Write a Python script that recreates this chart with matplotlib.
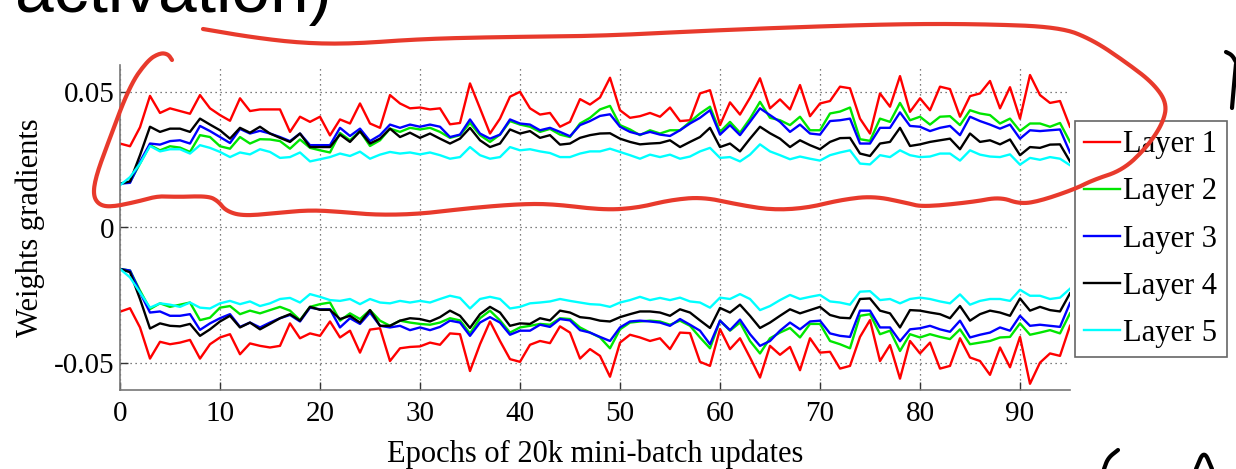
import numpy as np
import matplotlib
matplotlib.use("Agg")
import matplotlib.pyplot as plt
from matplotlib.lines import Line2D

epochs = np.arange(96)

# positive half (mean positive gradient per layer)
pos1 = [.031, .030, .037, .0486, .0423, .044, .043, .042, .0489, .044,
        .0415, .0394, .0477, .043, .0436, .0436, .0436, .0353, .0409, .039,
        .0409, .034, .0399, .0384, .0458, .0384, .0368, .0489, .0458, .044,
        .0443, .0436, .044, .0381, .0386, .0532, .044, .0347, .0402, .0483,
        .0501, .044, .0417, .0423, .0372, .039, .0474, .0454, .048, .0553,
        .0433, .0405, .0411, .0423, .0409, .0443, .0393, .0396, .0495, .0507,
        .0378, .0462, .0417, .0479, .0551, .044, .0473, .0436, .0526, .0411,
        .0458, .0467, .052, .0514, .0402, .0347, .0495, .0446, .0559, .0427,
        .0477, .0433, .052, .0511, .0409, .0485, .0495, .0541, .044, .0518,
        .0402, .0563, .0489, .046, .0467, .0372]
pos2 = [.0162, .0168, .0236, .0304, .0285, .030, .0295, .0279, .0341, .0334,
        .030, .0291, .0334, .031, .0326, .0325, .0319, .0291, .0325, .0294,
        .0285, .0277, .0349, .0322, .0356, .0301, .0322, .0365, .0353, .0368,
        .0362, .0368, .0353, .0331, .0341, .0386, .0341, .0316, .0343, .0393,
        .038, .0372, .0353, .0364, .0343, .0334, .0384, .0405, .0436, .0449,
        .0378, .0362, .0341, .0359, .0347, .0359, .0359, .039, .0421, .0446,
        .0353, .039, .035, .0402, .0464, .0405, .0396, .0378, .0409, .0359,
        .0359, .0421, .0428, .0443, .0326, .032, .0402, .039, .046, .0396,
        .0409, .038, .0409, .0411, .0378, .0433, .0421, .0415, .0384, .0402,
        .0356, .0384, .0384, .0372, .0386, .0316]
pos3 = [.0162, .0165, .0243, .031, .0306, .0319, .0322, .031, .0375, .0356,
        .0334, .0312, .0364, .0347, .0357, .0347, .0334, .0319, .0347, .0304,
        .0304, .0304, .0368, .0338, .0365, .0319, .0341, .038, .0368, .038,
        .0372, .038, .0372, .0334, .0343, .0399, .0347, .0328, .0343, .0399,
        .0384, .038, .0359, .0368, .0353, .0337, .0378, .0393, .0412, .0418,
        .0372, .0353, .0343, .0353, .0343, .0338, .0359, .0384, .0405, .0433,
        .0343, .0378, .0341, .039, .044, .0415, .039, .0353, .038, .0347,
        .0343, .0393, .0396, .0402, .031, .031, .0368, .0368, .0425, .0375,
        .0372, .0356, .0368, .0375, .0341, .0409, .0393, .038, .0365, .038,
        .0328, .0359, .0356, .0359, .0362, .0277]
pos4 = [.0162, .017, .0267, .0372, .0353, .0365, .0365, .0353, .0402, .038,
        .0359, .0328, .0368, .035, .0372, .0347, .0331, .0316, .0347, .0297,
        .0297, .0297, .0343, .0316, .0355, .031, .0328, .0365, .0334, .035,
        .0331, .0347, .0328, .031, .0328, .0368, .0322, .0297, .031, .0362,
        .0347, .0356, .0331, .0341, .0306, .031, .0331, .0341, .0347, .0348,
        .0328, .0316, .0307, .031, .0312, .0322, .0297, .0316, .0334, .0368,
        .0297, .031, .0281, .0328, .0372, .0348, .0328, .0297, .0322, .0304,
        .0289, .0316, .033, .0331, .0273, .0264, .031, .0316, .0368, .0301,
        .0307, .0316, .0322, .0328, .0289, .0347, .0316, .0322, .0307, .0325,
        .0267, .0297, .0294, .0306, .0307, .0244]
pos5 = [.0156, .0186, .0236, .0301, .0281, .0289, .0289, .0273, .0304, .0294,
        .0279, .026, .0277, .027, .0289, .0279, .0257, .026, .0277, .0244,
        .0252, .026, .0273, .0264, .028, .0254, .0269, .0279, .0273, .0277,
        .027, .0277, .0267, .0254, .026, .0297, .0267, .0254, .026, .0297,
        .0285, .0289, .0281, .0275, .026, .026, .0273, .0281, .0281, .0291,
        .0279, .0267, .0254, .0269, .026, .0269, .0254, .0262, .0281, .0294,
        .0257, .026, .0244, .0269, .0307, .0281, .0267, .0252, .0262, .0254,
        .0247, .0267, .0277, .0285, .0236, .0233, .0267, .026, .0285, .0267,
        .026, .0262, .0273, .0273, .0247, .0285, .0269, .0262, .026, .027,
        .0232, .0257, .025, .026, .0254, .023]

# negative half (mean negative gradient per layer)
neg1 = [-.0311, -.0298, -.0369, -.0484, -.0422, -.0431, -.0425, -.0415, -.0484, -.0431,
        -.0406, -.0394, -.0468, -.0428, -.0437, -.0443, -.0437, -.0354, -.0409, -.0391,
        -.04, -.0347, -.0406, -.0381, -.0462, -.0377, -.0372, -.0493, -.0446, -.0441,
        -.0439, -.0425, -.0433, -.0391, -.0394, -.053, -.0431, -.0347, -.0419, -.0486,
        -.0496, -.0433, -.0419, -.0427, -.0365, -.0388, -.0484, -.0449, -.0474, -.0551,
        -.0425, -.0396, -.0406, -.0419, -.0409, -.0449, -.0388, -.039, -.0496, -.0511,
        -.0375, -.0449, -.0409, -.048, -.0554, -.0437, -.047, -.0441, -.0527, -.0409,
        -.0462, -.0459, -.0521, -.0511, -.0404, -.0342, -.0493, -.0434, -.0558, -.0419,
        -.0465, -.0425, -.0521, -.0511, -.0409, -.048, -.0493, -.0544, -.0443, -.0516,
        -.0404, -.0577, -.0499, -.0465, -.0474, -.0363]
neg2 = [-.0153, -.0159, -.0233, -.0301, -.028, -.0293, -.0285, -.0277, -.0342, -.0333,
        -.0296, -.029, -.032, -.0307, -.0317, -.0305, -.0293, -.0307, -.0342, -.0293,
        -.0283, -.0277, -.0344, -.0317, -.0338, -.0305, -.0344, -.0363, -.0344, -.0351,
        -.0356, -.0359, -.0351, -.0335, -.0343, -.0391, -.0335, -.0307, -.0343, -.0388,
        -.0369, -.0363, -.0356, -.0359, -.0335, -.0338, -.0369, -.0388, -.0406, -.0446,
        -.0376, -.0351, -.0347, -.0344, -.0347, -.0359, -.0344, -.0363, -.0406, -.0446,
        -.0344, -.0381, -.0351, -.0419, -.0465, -.0409, -.0388, -.0371, -.0406, -.0356,
        -.0356, -.0419, -.0431, -.0446, -.0326, -.032, -.0394, -.0381, -.0456, -.0394,
        -.0406, -.0394, -.0404, -.0412, -.0376, -.0431, -.0425, -.0419, -.0406, -.0404,
        -.0354, -.0396, -.0388, -.0379, -.0391, -.0317]
neg3 = [-.0153, -.0159, -.024, -.0314, -.031, -.0326, -.0326, -.032, -.0378, -.0354,
        -.0335, -.032, -.0367, -.0351, -.0369, -.0351, -.0335, -.0323, -.0347, -.0296,
        -.0302, -.0302, -.0369, -.0335, -.0356, -.0314, -.0363, -.0369, -.0363, -.0379,
        -.0369, -.0379, -.0367, -.0344, -.0351, -.04, -.0351, -.0331, -.0351, -.0396,
        -.0381, -.0381, -.0359, -.0367, -.0338, -.0343, -.0379, -.0388, -.0404, -.0419,
        -.0369, -.0347, -.0344, -.0347, -.0351, -.0363, -.0338, -.0359, -.0381, -.0431,
        -.0344, -.0379, -.034, -.0394, -.0437, -.0419, -.0381, -.0351, -.0376, -.0347,
        -.0344, -.0391, -.04, -.0404, -.0307, -.0307, -.0369, -.0369, -.042, -.0376,
        -.0372, -.0363, -.0376, -.0385, -.0344, -.0406, -.0396, -.0388, -.0369, -.0381,
        -.0326, -.0363, -.0359, -.0363, -.0367, -.0279]
neg4 = [-.0153, -.0165, -.0264, -.0373, -.0354, -.0363, -.0365, -.0356, -.04, -.0376,
        -.0347, -.0326, -.0369, -.0351, -.0376, -.0356, -.0335, -.032, -.0344, -.0293,
        -.0304, -.0304, -.0338, -.0326, -.0351, -.0305, -.0363, -.0363, -.0344, -.0335,
        -.0338, -.0347, -.0331, -.0307, -.0326, -.0371, -.032, -.0293, -.0314, -.0363,
        -.0354, -.0356, -.0335, -.0343, -.0307, -.0314, -.0331, -.0335, -.0344, -.0347,
        -.0331, -.032, -.031, -.031, -.0314, -.0326, -.0302, -.0314, -.0343, -.0371,
        -.0297, -.0314, -.0285, -.0326, -.0371, -.0351, -.0326, -.0302, -.0317, -.0305,
        -.0293, -.0323, -.0333, -.0335, -.0264, -.0262, -.0307, -.0317, -.0369, -.0305,
        -.0307, -.0314, -.032, -.0335, -.029, -.0344, -.032, -.0307, -.0314, -.0326,
        -.0262, -.0307, -.0293, -.0305, -.031, -.0243]
neg5 = [-.0153, -.0184, -.024, -.0296, -.028, -.0285, -.0293, -.0277, -.0296, -.0299,
        -.028, -.0271, -.0283, -.0273, -.029, -.028, -.0264, -.026, -.0277, -.0246,
        -.0256, -.0268, -.0271, -.0264, -.0283, -.0264, -.0277, -.028, -.0271, -.0277,
        -.0271, -.0277, -.0264, -.0252, -.026, -.0299, -.0264, -.0256, -.0264, -.0299,
        -.0293, -.028, -.0277, -.0273, -.0264, -.0271, -.0277, -.0283, -.0285, -.0293,
        -.0277, -.0268, -.0256, -.0268, -.026, -.0268, -.0259, -.0273, -.0277, -.0296,
        -.0259, -.0264, -.0246, -.0264, -.0305, -.029, -.0268, -.0249, -.0264, -.0256,
        -.0249, -.0273, -.0277, -.0285, -.0237, -.0235, -.0268, -.0264, -.028, -.0264,
        -.0259, -.0264, -.0273, -.028, -.0247, -.0285, -.0271, -.0264, -.0264, -.0271,
        -.023, -.0252, -.0252, -.0264, -.0259, -.0226]

layer_names = ["Layer 1", "Layer 2", "Layer 3", "Layer 4", "Layer 5"]
layer_colors = ["#ff0000", "#00e600", "#0000ff", "#000000", "#00ffff"]
pos_series = [pos1, pos2, pos3, pos4, pos5]
neg_series = [neg1, neg2, neg3, neg4, neg5]

# freehand pen strokes on top of the slide, in pixels from the top-left corner
loop_px = [(203, 29), (250, 37), (300, 43), (350, 44), (420, 39), (500, 37), (600, 36),
           (700, 31), (800, 27), (900, 24), (980, 24), (1060, 27), (1093, 40), (1127, 63),
           (1153, 83), (1167, 103), (1163, 123), (1147, 147), (1123, 170), (1093, 180),
           (1075, 189), (1040, 201), (1020, 204), (1000, 197), (973, 202), (923, 207),
           (907, 203), (873, 196), (840, 200), (807, 208), (773, 210), (740, 205),
           (703, 197), (670, 200), (637, 208), (603, 210), (553, 204), (520, 204),
           (470, 208), (420, 214), (377, 215), (343, 212), (310, 210), (277, 213),
           (243, 216), (226, 211), (218, 201), (208, 196), (177, 197), (158, 196),
           (140, 201), (112, 207), (99, 205), (93, 195), (96, 176), (108, 143),
           (130, 85), (148, 60), (160, 53), (168, 54), (172, 60)]
ink_px = [
    [(1226, 52), (1232, 55), (1236, 62)],
    [(1236, 64), (1234, 85), (1232, 108)],
    [(1118, 450), (1108, 458), (1104, 469)],
    [(1196, 469), (1204, 450), (1212, 469)],
]

W, H = 1236, 469
fig = plt.figure(figsize=(W / 100, H / 100), dpi=100)
plt.rcParams["font.family"] = ["Liberation Serif", "DejaVu Serif"]

ax = fig.add_axes([120 / W, 79 / H, 950 / W, 325 / H])
for name, color, ys in zip(layer_names, layer_colors, pos_series):
    ax.plot(epochs, ys, color=color, lw=1.7, label=name)
for color, ys in zip(layer_colors, neg_series):
    ax.plot(epochs, ys, color=color, lw=1.7)

ax.set_xlim(0, 95)
ax.set_ylim(-0.06, 0.06)
ax.set_xticks(range(0, 100, 10))
ax.set_yticks([-0.05, 0, 0.05])
ax.set_yticklabels(["-0.05", "0", "0.05"])
ax.grid(True, linestyle=(0, (1, 3)), color="#555555", linewidth=0.9)
for side in ["top", "right"]:
    ax.spines[side].set_visible(False)
for side in ["left", "bottom"]:
    ax.spines[side].set_color("#777777")
    ax.spines[side].set_linewidth(1.2)
ax.tick_params(direction="in", length=6, width=1, color="#333333", labelsize=21)
ax.tick_params(axis="x", pad=8)
ax.tick_params(axis="y", pad=4)
ax.set_xlabel("Epochs of 20k mini-batch updates", fontsize=22, labelpad=9)
ax.set_ylabel("Weights gradients", fontsize=22, labelpad=6)

leg = ax.legend(loc="upper left", bbox_to_anchor=(1075 / W, 1 - 121 / H),
                bbox_transform=fig.transFigure, fontsize=22, fancybox=False,
                edgecolor="#666666", framealpha=1, borderaxespad=0,
                handlelength=1.15, handletextpad=0.12, labelspacing=0.59,
                borderpad=0.31)
leg.get_frame().set_linewidth(1.2)
for h in leg.get_lines():
    h.set_linewidth(1.7)

fig.text(15 / W, 1 - 12 / H, "activation)", family="Liberation Sans",
         fontsize=50, va="baseline", ha="left", color="black")


def chaikin(pts, rounds=3):
    p = np.asarray(pts, dtype=float)
    for _ in range(rounds):
        q = 0.75 * p[:-1] + 0.25 * p[1:]
        r = 0.25 * p[:-1] + 0.75 * p[1:]
        p = np.vstack([p[:1], np.column_stack([q, r]).reshape(-1, 2), p[-1:]])
    return p


def pen(pts, color, lw):
    p = chaikin(pts)
    fig.add_artist(Line2D(p[:, 0] / W, 1 - p[:, 1] / H, transform=fig.transFigure,
                          color=color, lw=lw, solid_capstyle="round",
                          solid_joinstyle="round", zorder=10))


pen(loop_px, "#e83a2c", 3.0)
for stroke in ink_px:
    pen(stroke, "black", 3.0)

fig.savefig("out.png", dpi=100)
